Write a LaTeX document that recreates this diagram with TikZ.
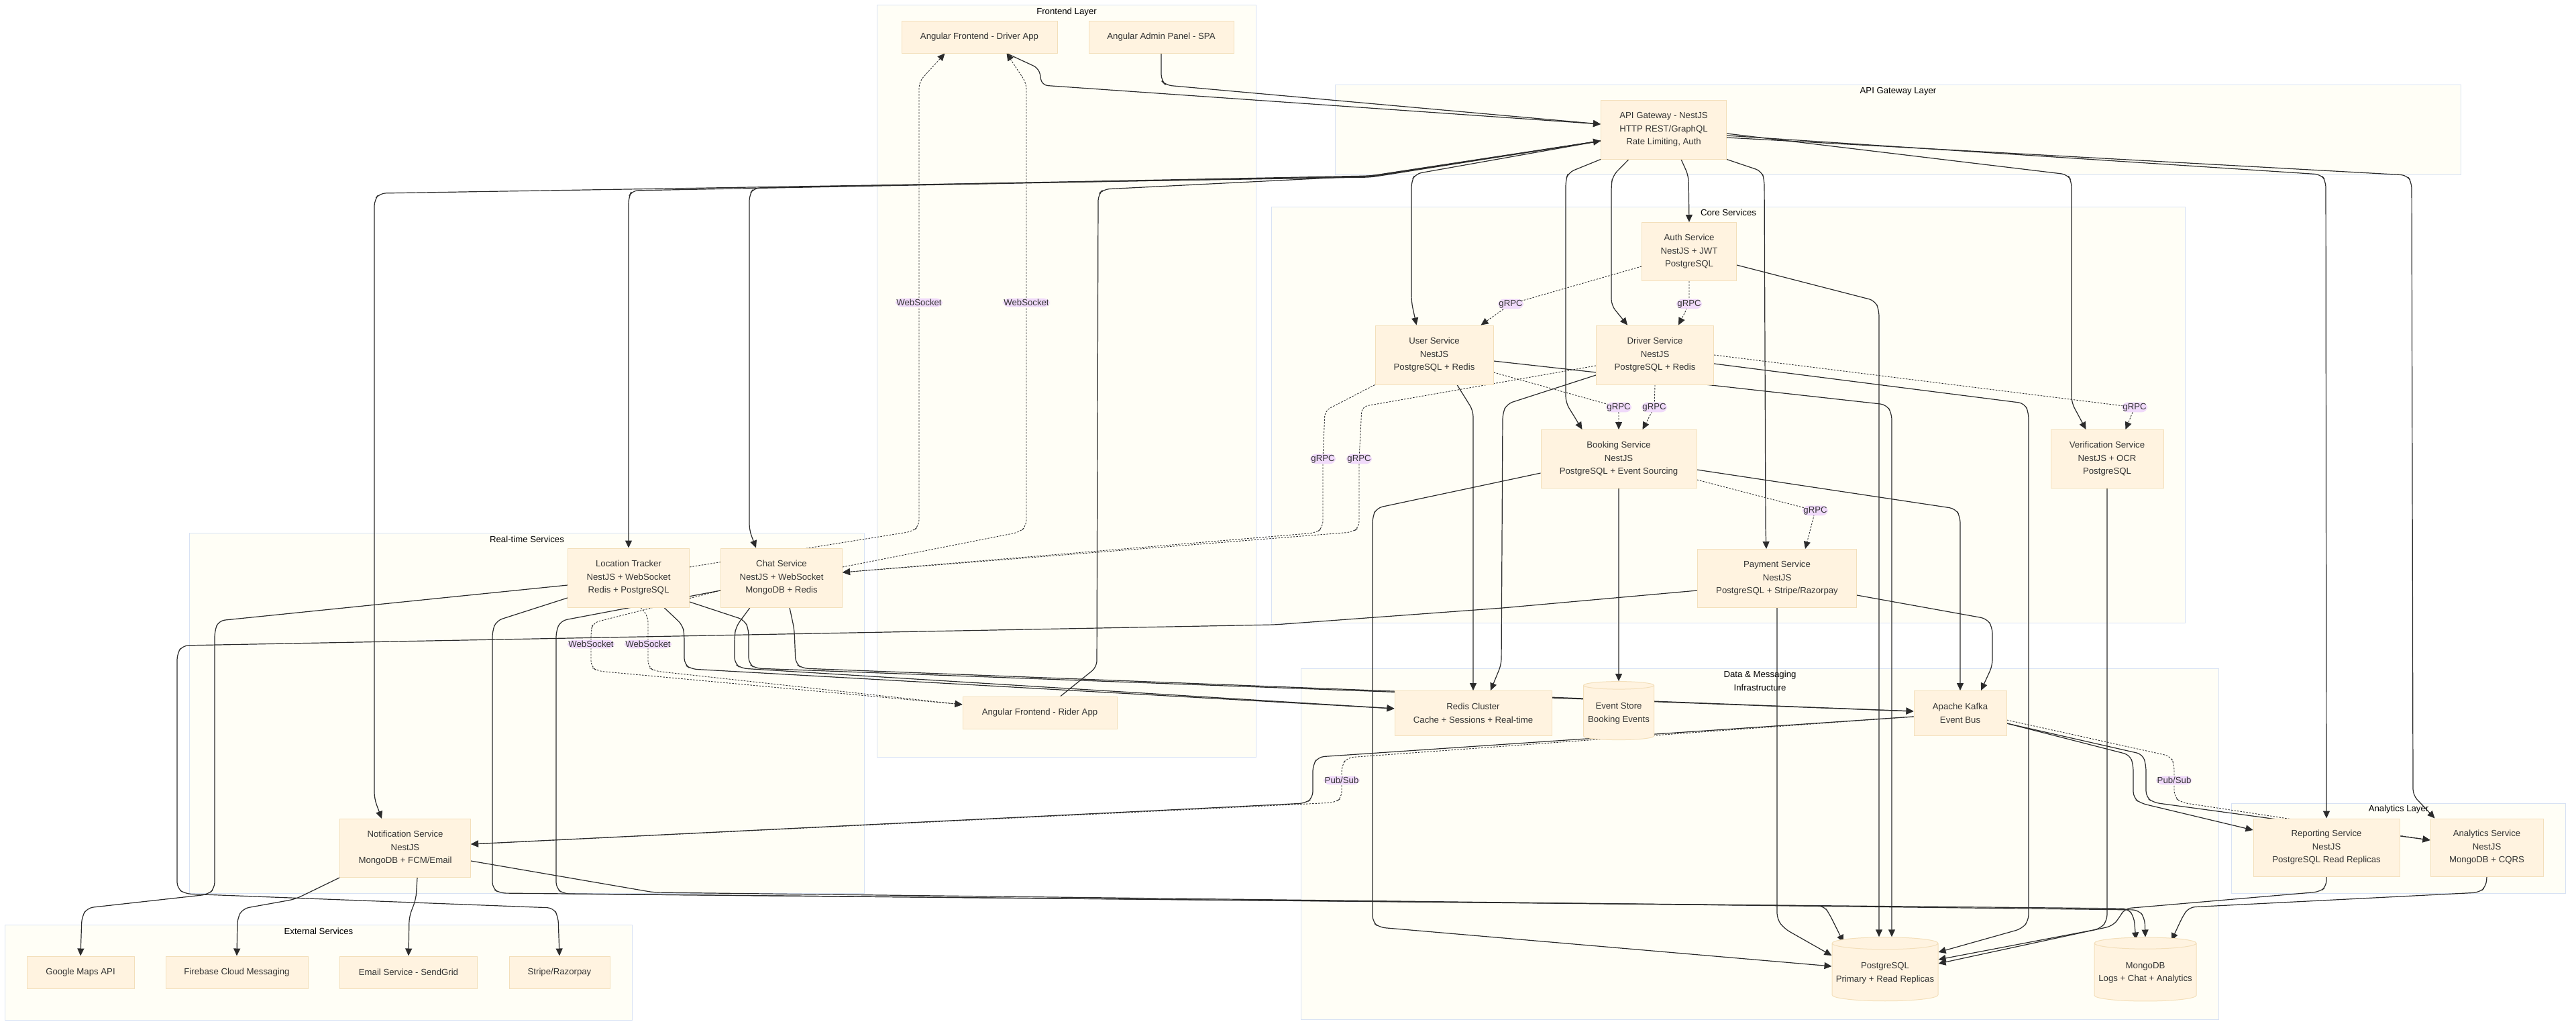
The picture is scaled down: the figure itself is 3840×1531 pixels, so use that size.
\documentclass[tikz,border=0pt]{standalone}
\usepackage{fontspec}
\setmainfont{Liberation Sans}
\usetikzlibrary{arrows.meta,calc,shapes.geometric}
\definecolor{mmink}{HTML}{333333}
\definecolor{mmline}{HTML}{2B2B2B}
\definecolor{mmnode}{HTML}{FFF3E0}
\definecolor{mmedge}{HTML}{F3DFBA}
\definecolor{mmpanel}{HTML}{FFFEF6}
\definecolor{mmframe}{HTML}{D8E2F4}
\definecolor{mmtag}{HTML}{F0DAFA}
\pgfdeclarelayer{panel}
\pgfdeclarelayer{wire}
\pgfsetlayers{panel,wire,main}
\tikzset{
  mm text/.style={font=\fontsize{13.2}{19.5}\selectfont, text=mmink},
  mm layer/.style={draw=mmframe, line width=1pt, fill=mmpanel, anchor=north west, inner sep=0pt},
  mm title/.style={mm text, text=black, align=center, anchor=north, inner sep=0pt},
  mm box/.style={draw=mmedge, line width=1pt, fill=mmnode, align=center, inner sep=2pt, mm text},
  mm db/.style={mm box, cylinder, shape border rotate=90, aspect=0.12,
    cylinder uses custom fill, cylinder body fill=mmnode, cylinder end fill=mmnode},
  mm flow/.style={-{Triangle[length=11pt,width=10pt]}, draw=mmline, line width=1.2pt,
    rounded corners=9pt},
  mm rpc/.style={mm flow, line width=0.9pt, dash pattern=on 2.5pt off 2pt},
  mm tag/.style={fill=mmtag, inner sep=1.5pt, mm text}
}

\begin{document}
\begin{tikzpicture}[x=1pt, y=-1pt]
  \useasboundingbox (0,0) rectangle (3840,1531);

  % layers
  \begin{pgfonlayer}{panel}
    \node[mm layer, minimum width=565pt, minimum height=1121pt] (feL) at (1307,7) {};
    \node[mm title] (feT) at ($(feL.north)+(0,5)$) {Frontend Layer};
    \node[mm layer, minimum width=1678pt, minimum height=134pt] (gwL) at (1990,126) {};
    \node[mm title] (gwT) at ($(gwL.north)+(0,4)$) {API Gateway Layer};
    \node[mm layer, minimum width=1362pt, minimum height=620pt] (csL) at (1895,308) {};
    \node[mm title] (csT) at ($(csL.north)+(0,4)$) {Core Services};
    \node[mm layer, minimum width=1006pt, minimum height=537pt] (rtL) at (282,794) {};
    \node[mm title] (rtT) at ($(rtL.north)+(0,5)$) {Real-time Services};
    \node[mm layer, minimum width=1368pt, minimum height=523pt] (dmL) at (1939,996) {};
    \node[mm title] (dmT) at ($(dmL.north)+(0,4)$) {Data \& Messaging\\Infrastructure};
    \node[mm layer, minimum width=498pt, minimum height=134pt] (anL) at (3326,1197) {};
    \node[mm title] (anT) at ($(anL.north)+(0,3)$) {Analytics Layer};
    \node[mm layer, minimum width=935pt, minimum height=142pt] (exL) at (7,1378) {};
    \node[mm title] (exT) at ($(exL.north)+(0,5)$) {External Services};
  \end{pgfonlayer}

  % frontend
  \node[mm box, minimum width=232pt, minimum height=48pt] (drvapp) at (1460,55) {Angular Frontend - Driver App};
  \node[mm box, minimum width=216pt, minimum height=48pt] (admin) at (1731,55) {Angular Admin Panel - SPA};
  \node[mm box, minimum width=230pt, minimum height=48pt] (rider) at (1550,1062) {Angular Frontend - Rider App};
  % gateway
  \node[mm box, minimum width=187pt, minimum height=88pt] (gw) at (2480,193) {API Gateway - NestJS\\HTTP REST/GraphQL\\Rate Limiting, Auth};
  % core services
  \node[mm box, minimum width=141pt, minimum height=87pt] (auth) at (2518,375) {Auth Service\\NestJS + JWT\\PostgreSQL};
  \node[mm box, minimum width=176pt, minimum height=88pt] (user) at (2138,529) {User Service\\NestJS\\PostgreSQL + Redis};
  \node[mm box, minimum width=175pt, minimum height=88pt] (drv) at (2467,529) {Driver Service\\NestJS\\PostgreSQL + Redis};
  \node[mm box, minimum width=232pt, minimum height=87pt] (bkg) at (2413,684) {Booking Service\\NestJS\\PostgreSQL + Event Sourcing};
  \node[mm box, minimum width=168pt, minimum height=87pt] (ver) at (3141,684) {Verification Service\\NestJS + OCR\\PostgreSQL};
  \node[mm box, minimum width=237pt, minimum height=87pt] (pay) at (2649,862) {Payment Service\\NestJS\\PostgreSQL + Stripe/Razorpay};
  % real-time
  \node[mm box, minimum width=181pt, minimum height=88pt] (loc) at (937,861) {Location Tracker\\NestJS + WebSocket\\Redis + PostgreSQL};
  \node[mm box, minimum width=181pt, minimum height=88pt] (chat) at (1165,861) {Chat Service\\NestJS + WebSocket\\MongoDB + Redis};
  \node[mm box, minimum width=195pt, minimum height=87pt] (notif) at (604,1264) {Notification Service\\NestJS\\MongoDB + FCM/Email};
  % data
  \node[mm box, minimum width=234pt, minimum height=67pt] (redis) at (2196,1063) {Redis Cluster\\Cache + Sessions + Real-time};
  \node[mm db, minimum width=105pt, minimum height=87pt] (evs) at (2413,1063) {Event Store\\Booking Events};
  \node[mm box, minimum width=138pt, minimum height=67pt] (kafka) at (2922,1063) {Apache Kafka\\Event Bus};
  \node[mm db, minimum width=158pt, minimum height=95pt] (pg) at (2810,1450) {PostgreSQL\\Primary + Read Replicas};
  \node[mm db, minimum width=152pt, minimum height=95pt] (mongo) at (3198,1450) {MongoDB\\Logs + Chat + Analytics};
  % analytics
  \node[mm box, minimum width=218pt, minimum height=86pt] (rep) at (3468,1263) {Reporting Service\\NestJS\\PostgreSQL Read Replicas};
  \node[mm box, minimum width=168pt, minimum height=86pt] (ana) at (3707,1263) {Analytics Service\\NestJS\\MongoDB + CQRS};
  % external
  \node[mm box, minimum width=160pt, minimum height=48pt] (gmaps) at (120,1449) {Google Maps API};
  \node[mm box, minimum width=212pt, minimum height=48pt] (fcm) at (353,1449) {Firebase Cloud Messaging};
  \node[mm box, minimum width=205pt, minimum height=48pt] (email) at (609,1449) {Email Service - SendGrid};
  \node[mm box, minimum width=150pt, minimum height=48pt] (stripe) at (834,1449) {Stripe/Razorpay};

  \begin{pgfonlayer}{wire}
    % clients to gateway
    \draw[mm flow] ($(drvapp.south west)+(157,0)$) -- (1549,102) -- (1553,127) -- ($(gw.west)+(0,-8)$);
    \draw[mm flow] (admin.south) -- (1731,120) -- (1738,127) -- ($(gw.west)+(0,-8)$);
    \draw[mm flow] ($(rider.north)+(31,0)$) -- (1635,994) -- (1637,290) -- (1645,282) -- (2044,262) -- ($(gw.west)+(0,17)$);
    % gateway fan-out
    \draw[mm flow] ($(gw.west)+(0,17)$) -- (2044,264) -- (566,288) -- (558,298) -- (558,1190) -- ($(notif.north west)+(63,0)$);
    \draw[mm flow] ($(gw.west)+(0,17)$) -- (2044,263) -- (942,284) -- (937,294) -- (loc.north);
    \draw[mm flow] ($(gw.west)+(0,17)$) -- (2044,262) -- (1124,280) -- (1117,290) -- (1117,790) -- ($(chat.north west)+(53,0)$);
    \draw[mm flow] ($(gw.west)+(0,17)$) -- (2110,259) -- (2104,270) -- (2104,450) -- ($(user.north west)+(62,0)$);
    \draw[mm flow] (gw.south west) -- (2338,257) -- (2334,268) -- (2334,600) -- ($(bkg.north west)+(62,0)$);
    \draw[mm flow] ($(gw.south west)+(42,0)$) -- (2404,262) -- (2402,276) -- (2402,455) -- ($(drv.north west)+(47,0)$);
    \draw[mm flow] ($(gw.south west)+(120,0)$) -- (2517,262) -- (auth.north);
    \draw[mm flow] (gw.south east) -- (2626,255) -- (2630,268) -- (2632,790) -- ($(pay.north west)+(103,0)$);
    \draw[mm flow] ($(gw.east)+(0,6)$) -- (3082,260) -- (3088,270) -- (3088,600) -- ($(ver.north west)+(53,0)$);
    \draw[mm flow] ($(gw.east)+(0,9)$) -- (3460,260) -- (3467,270) -- (rep.north);
    \draw[mm flow] ($(gw.east)+(0,12)$) -- (3588,261) -- (3595,272) -- (3597,1185) -- ($(ana.north west)+(7,0)$);

    % gRPC calls
    \draw[mm rpc] ($(auth.west)+(0,22)$) -- (2252,453) node[mm tag] (g1) {gRPC} -- ($(user.north west)+(158,0)$);
    \draw[mm rpc] (auth.south) -- (2518,453) node[mm tag] (g2) {gRPC} -- ($(drv.north west)+(123,0)$);
    \draw[mm rpc] ($(user.east)+(0,26)$) -- (2413,607) node[mm tag] (g3) {gRPC} -- (bkg.north);
    \draw[mm rpc] (drv.south) -- (2466,607) node[mm tag] (g4) {gRPC} -- ($(bkg.north west)+(152,0)$);
    \draw[mm rpc] ($(bkg.east)+(0,31)$) -- (2706,761) node[mm tag] (g5) {gRPC} -- ($(pay.north west)+(161,0)$);
    \draw[mm rpc] (drv.east) -- (3182,607) node[mm tag] (g6) {gRPC} -- ($(ver.north west)+(112,0)$);
    \draw[mm rpc] (user.south west) -- (1975,612) -- (1972,684) node[mm tag] (g7) {gRPC} -- (1972,786) -- (1962,794) -- ($(chat.east)+(0,-8)$);
    \draw[mm rpc] ($(drv.west)+(0,16)$) -- (2030,606) -- (2026,684) node[mm tag] (g8) {gRPC} -- (2026,786) -- (2016,793) -- ($(chat.east)+(0,-8)$);

    % WebSocket pushes
    \draw[mm rpc] ($(loc.east)+(0,-16)$) -- (1360,792) -- (1370,784) -- (1370,451) node[mm tag] (w1) {WebSocket} -- (1370,122) -- ($(drvapp.south west)+(65,0)$);
    \draw[mm rpc] ($(chat.east)+(0,-16)$) -- (1520,793) -- (1530,784) -- (1530,451) node[mm tag] (w2) {WebSocket} -- (1530,124) -- ($(drvapp.south west)+(157,0)$);
    \draw[mm rpc] ($(loc.south)+(18,0)$) -- (966,918) -- (966,960) node[mm tag] (w3) {WebSocket} -- (966,994) -- (976,1000) -- ($(rider.west)+(0,-12)$);
    \draw[mm rpc] ($(chat.west)+(0,19)$) -- (884,928) -- (881,940) -- (881,960) node[mm tag] (w4) {WebSocket} -- (881,994) -- (891,1000) -- ($(rider.west)+(0,-12)$);

    % core services to stores
    \draw[mm flow] ($(auth.east)+(0,20)$) -- (2795,448) -- (2801,462) -- ($(pg.north)+(-9,0)$);
    \draw[mm flow] ($(user.east)+(0,9)$) -- (2812,603) -- (2820,616) -- ($(pg.north)+(10,0)$);
    \draw[mm flow] ($(user.south)+(34,0)$) -- (2196,612) -- (redis.north);
    \draw[mm flow] ($(drv.east)+(0,13)$) -- (3018,601) -- (3024,615) -- (3024,1372) -- (3014,1384) -- ($(pg.east)+(0,-31)$);
    \draw[mm flow] ($(drv.west)+(0,30)$) -- (2246,602) -- (2240,616) -- (2238,990) -- ($(redis.north)+(26,0)$);
    \draw[mm flow] ($(bkg.west)+(0,21)$) -- (2052,757) -- (2046,770) -- (2046,1374) -- (2056,1382) -- ($(pg.west)+(0,-10)$);
    \draw[mm flow] (bkg.south) -- (evs.north);
    \draw[mm flow] ($(bkg.east)+(0,16)$) -- (2915,758) -- (2922,770) -- (kafka.north);
    \draw[mm flow] (pay.south) -- (2649,1370) -- (2660,1384) -- ($(pg.west)+(0,-26)$);
    \draw[mm flow] ($(pay.east)+(0,25)$) -- (2962,922) -- (2970,935) -- (2970,992) -- ($(kafka.north)+(31,0)$);
    \draw[mm flow] (ver.south) -- (3141,1372) -- (3131,1384) -- ($(pg.east)+(0,-20)$);

    % real-time services to stores
    \draw[mm flow] ($(loc.south)+(53,0)$) -- (1018,932) -- (1020,946) -- (1020,990) -- (1030,997) -- ($(redis.west)+(0,-7)$);
    \draw[mm flow] ($(loc.east)+(0,36)$) -- (1110,924) -- (1116,938) -- (1116,989) -- (1126,996) -- ($(kafka.west)+(0,-3)$);
    \draw[mm flow] ($(loc.west)+(0,30)$) -- (740,925) -- (734,940) -- (734,1324) -- (745,1331) -- (2719,1350) -- (2727,1362) -- ($(pg.north)+(-62,8)$);
    \draw[mm flow] ($(chat.west)+(0,19)$) -- (836,925) -- (829,940) -- (829,1324) -- (840,1332) -- (3172,1354) -- (3181,1366) -- ($(mongo.north)+(-14,4)$);
    \draw[mm flow] ($(chat.south)+(-47,0)$) -- (1097,934) -- (1095,948) -- (1095,989) -- (1105,996) -- ($(redis.west)+(0,-7)$);
    \draw[mm flow] ($(chat.south)+(12,0)$) -- (1184,938) -- (1186,989) -- (1196,996) -- ($(kafka.west)+(0,-3)$);
    \draw[mm flow] ($(notif.east)+(0,19)$) -- (975,1330) -- (3188,1356) -- (3197,1368) -- (mongo.north);

    % analytics to stores
    \draw[mm flow] (rep.south) -- (3468,1321) -- (3458,1329) -- (3167,1354) -- (3159,1368) -- (3149,1380) -- ($(pg.east)+(0,-14)$);
    \draw[mm flow] (ana.south) -- (3706,1321) -- (3696,1330) -- (3263,1352) -- (3254,1365) -- ($(mongo.north)+(39,5)$);

    % event bus fan-out
    \draw[mm flow] ($(kafka.west)+(0,5)$) -- (1965,1128) -- (1957,1140) -- (1957,1189) -- (1946,1197) -- ($(notif.east)+(0,-6)$);
    \draw[mm rpc] ($(kafka.west)+(0,5)$) -- (2008,1129) -- (2000,1141) -- (2000,1163) node[mm tag] (p1) {Pub/Sub} -- (2000,1189) -- (1990,1196) -- ($(notif.east)+(0,-6)$);
    \draw[mm flow] ($(kafka.east)+(0,15)$) -- (3175,1125) -- (3180,1140) -- (3180,1189) -- (3191,1197) -- ($(rep.west)+(0,-26)$);
    \draw[mm flow] ($(kafka.east)+(0,15)$) -- (3194,1124) -- (3199,1140) -- (3199,1188) -- (3210,1196) -- ($(ana.west)+(0,-11)$);
    \draw[mm rpc] ($(kafka.east)+(0,10)$) -- (3236,1127) -- (3241,1140) -- (3241,1163) node[mm tag] (p2) {Pub/Sub} -- (3241,1188) -- (3252,1196) -- ($(ana.west)+(0,-11)$);

    % external providers
    \draw[mm flow] ($(loc.west)+(0,11)$) -- (326,925) -- (320,940) -- (320,1324) -- (310,1333) -- (130,1353) -- (122,1366) -- (gmaps.north);
    \draw[mm flow] (notif.south west) -- (440,1340) -- (362,1354) -- (354,1368) -- (fcm.north);
    \draw[mm flow] ($(notif.south)+(18,0)$) -- (620,1340) -- (610,1366) -- (email.north);
    \draw[mm flow] ($(pay.west)+(0,18)$) -- (2240,906) -- (1900,931) -- (272,962) -- (264,974) -- (264,1324) -- (276,1332) -- (825,1353) -- (832,1366) -- (stripe.north);
  \end{pgfonlayer}
\end{tikzpicture}
\end{document}
